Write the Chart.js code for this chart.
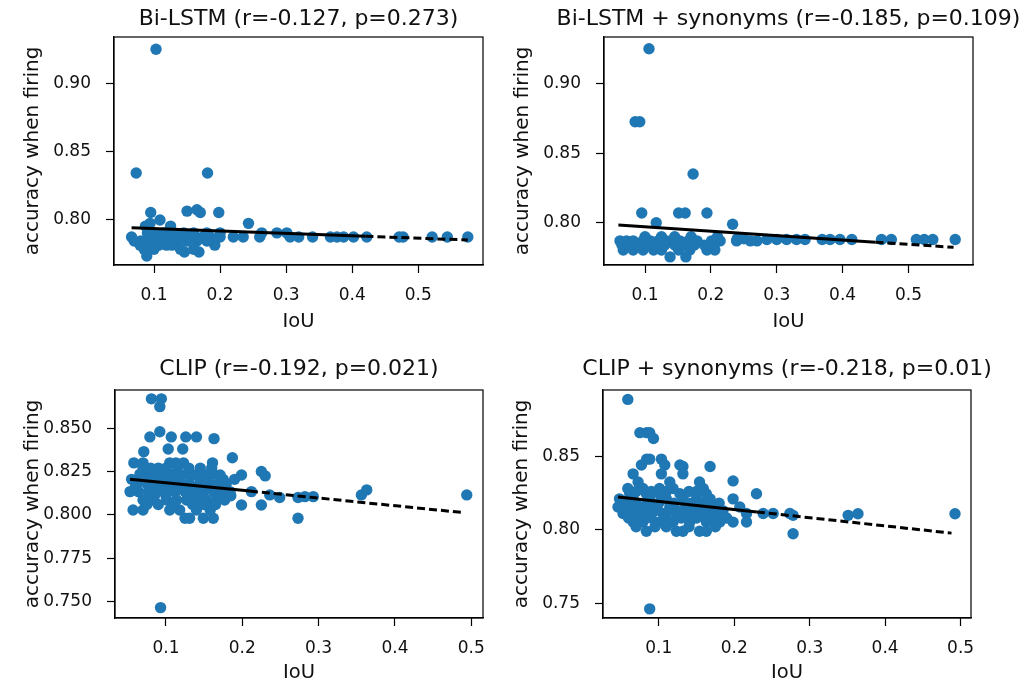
<!DOCTYPE html>
<html>
<head>
<meta charset="utf-8">
<script src="https://cdn.jsdelivr.net/npm/chart.js@4"></script>
<style>
  body { margin: 0; width: 1024px; height: 686px; overflow: hidden; background: #fff; position: relative; }
  .panel { position: absolute; }
</style>
</head>
<body>
<div class="panel" style="left:0px;top:0px;width:500px;height:343px"><canvas id="lstm"></canvas></div>
<div class="panel" style="left:490px;top:0px;width:534px;height:343px"><canvas id="lstmSyn"></canvas></div>
<div class="panel" style="left:0px;top:343px;width:500px;height:343px"><canvas id="clip"></canvas></div>
<div class="panel" style="left:489px;top:343px;width:535px;height:343px"><canvas id="clipSyn"></canvas></div>
<script>
// Bi-LSTM
const lstmX = [0.103, 0.073, 0.181, 0.095, 0.150, 0.165, 0.170, 0.198, 0.109, 0.087, 0.125, 0.094, 0.243,
  0.066, 0.079, 0.087, 0.089, 0.104, 0.107, 0.119, 0.127, 0.146, 0.168, 0.192,
  0.109, 0.127, 0.142, 0.157, 0.174, 0.185, 0.200, 0.220, 0.235, 0.260, 0.263, 0.286, 0.301,
  0.306, 0.319, 0.340, 0.367, 0.377, 0.387, 0.402, 0.422, 0.471, 0.477, 0.521, 0.544, 0.575,
  0.070, 0.080, 0.095, 0.115, 0.135, 0.150, 0.165, 0.180,
  0.090, 0.100, 0.115, 0.130, 0.145, 0.160, 0.180, 0.200,
  0.085, 0.100, 0.140, 0.160];
const lstmY = [0.925, 0.834, 0.834, 0.805, 0.806, 0.807, 0.805, 0.805, 0.7995, 0.795, 0.795, 0.797, 0.797,
  0.787, 0.781, 0.781, 0.773, 0.781, 0.781, 0.781, 0.781, 0.776, 0.776, 0.781,
  0.787, 0.787, 0.787, 0.787, 0.787, 0.787, 0.787, 0.787, 0.787, 0.787, 0.790, 0.790, 0.790,
  0.787, 0.787, 0.787, 0.787, 0.787, 0.787, 0.787, 0.787, 0.787, 0.787, 0.787, 0.787, 0.787,
  0.784, 0.784, 0.784, 0.784, 0.784, 0.784, 0.784, 0.784,
  0.790, 0.790, 0.790, 0.790, 0.790, 0.790, 0.790, 0.790,
  0.778, 0.778, 0.778, 0.778];
const lstmFitX = [0.066, 0.42, 0.575];
const lstmFitY = [0.7938, 0.7875, 0.7848];

// Bi-LSTM + synonyms
const lstmSynX = [0.106, 0.085, 0.092, 0.173, 0.095, 0.151, 0.161, 0.194, 0.117, 0.233,
  0.062, 0.072, 0.082, 0.097, 0.108, 0.120, 0.133, 0.153, 0.166, 0.179, 0.201, 0.214, 0.239, 0.260, 0.270,
  0.067, 0.082, 0.097, 0.113, 0.125, 0.151, 0.168, 0.194, 0.206, 0.138, 0.162,
  0.285, 0.300, 0.315, 0.330, 0.343, 0.369, 0.381, 0.396, 0.414, 0.459, 0.474, 0.512, 0.524, 0.537, 0.571,
  0.065, 0.075, 0.090, 0.105, 0.115, 0.130, 0.145, 0.160, 0.175, 0.190, 0.205,
  0.100, 0.125, 0.145, 0.170, 0.210, 0.240, 0.250];
const lstmSynY = [0.925, 0.8725, 0.8725, 0.835, 0.807, 0.807, 0.807, 0.807, 0.800, 0.799,
  0.787, 0.787, 0.787, 0.787, 0.787, 0.787, 0.787, 0.787, 0.787, 0.787, 0.787, 0.787, 0.787, 0.787, 0.787,
  0.7805, 0.7805, 0.7805, 0.7805, 0.7805, 0.7805, 0.7805, 0.7805, 0.7805, 0.7755, 0.7755,
  0.788, 0.788, 0.788, 0.788, 0.788, 0.788, 0.788, 0.788, 0.788, 0.788, 0.788, 0.788, 0.788, 0.788, 0.788,
  0.784, 0.784, 0.784, 0.784, 0.784, 0.784, 0.784, 0.784, 0.784, 0.784, 0.784,
  0.790, 0.790, 0.790, 0.790, 0.790, 0.7885, 0.7885];
const lstmSynFitX = [0.0595, 0.45, 0.5685];
const lstmSynFitY = [0.7984, 0.7861, 0.7824];

// CLIP
const clipX = [0.081, 0.094, 0.092,
  0.079, 0.092, 0.107, 0.126, 0.140, 0.163, 0.103, 0.122, 0.071, 0.187,
  0.058, 0.070, 0.105, 0.113, 0.123, 0.161,
  0.066, 0.073, 0.079, 0.086, 0.092, 0.101, 0.110, 0.118, 0.127, 0.136, 0.145, 0.153, 0.162, 0.171,
  0.199, 0.225, 0.230,
  0.062, 0.075, 0.083, 0.097, 0.107, 0.121, 0.131, 0.145, 0.158, 0.168, 0.179,
  0.053, 0.064, 0.077, 0.088, 0.099, 0.112, 0.125, 0.136, 0.149, 0.162, 0.175, 0.184,
  0.212, 0.236, 0.249,
  0.070, 0.083, 0.101, 0.114, 0.127, 0.140, 0.153, 0.166, 0.177,
  0.199, 0.225,
  0.057, 0.070, 0.105, 0.118, 0.140, 0.158,
  0.125, 0.131, 0.149, 0.162,
  0.273, 0.273, 0.282, 0.293, 0.356, 0.363, 0.494, 0.093,
  0.070, 0.080, 0.090, 0.100, 0.115, 0.130, 0.145, 0.160,
  0.055, 0.085, 0.115, 0.145, 0.175, 0.190,
  0.060, 0.090, 0.105, 0.120, 0.135, 0.150, 0.165,
  0.085, 0.100, 0.130, 0.145, 0.170, 0.185,
  0.075, 0.090, 0.110, 0.135, 0.150, 0.165];
const clipY = [0.867, 0.867, 0.8625,
  0.845, 0.848, 0.845, 0.845, 0.845, 0.844, 0.838, 0.838, 0.8365, 0.833,
  0.830, 0.830, 0.830, 0.830, 0.830, 0.830,
  0.8235, 0.823, 0.8235, 0.823, 0.8235, 0.823, 0.8235, 0.823, 0.8235, 0.823, 0.8235, 0.823, 0.8235, 0.823,
  0.823, 0.825, 0.8225,
  0.818, 0.818, 0.818, 0.818, 0.818, 0.818, 0.818, 0.818, 0.818, 0.818, 0.818,
  0.8134, 0.8134, 0.8134, 0.8134, 0.8134, 0.8134, 0.8134, 0.8134, 0.8134, 0.8134, 0.8134, 0.8134,
  0.8134, 0.8115, 0.810,
  0.8086, 0.8086, 0.8086, 0.8086, 0.8086, 0.8086, 0.8086, 0.8086, 0.8086,
  0.8057, 0.8057,
  0.8028, 0.8028, 0.8028, 0.8028, 0.8028, 0.8028,
  0.798, 0.798, 0.798, 0.798,
  0.810, 0.798, 0.8105, 0.8105, 0.8115, 0.8144, 0.8115, 0.7464,
  0.827, 0.827, 0.827, 0.827, 0.827, 0.827, 0.827, 0.827,
  0.8205, 0.8205, 0.8205, 0.8205, 0.8205, 0.8205,
  0.816, 0.816, 0.816, 0.816, 0.816, 0.816, 0.816,
  0.811, 0.811, 0.811, 0.811, 0.811, 0.811,
  0.806, 0.806, 0.806, 0.806, 0.806, 0.806];
const clipFitX = [0.0529, 0.21, 0.489];
const clipFitY = [0.8206, 0.8137, 0.8013];

// CLIP + synonyms
const clipSynX = [0.059, 0.075, 0.084, 0.088, 0.093,
  0.077, 0.084, 0.088, 0.1035, 0.108, 0.128, 0.132, 0.168,
  0.066, 0.1035, 0.132,
  0.0726, 0.1146, 0.154, 0.1985,
  0.059, 0.079, 0.101, 0.119, 0.159,
  0.0615, 0.0836, 0.101, 0.128, 0.163, 0.2295,
  0.048, 0.066, 0.088, 0.110, 0.132, 0.150, 0.168, 0.1985,
  0.046, 0.0615, 0.075, 0.097, 0.1146, 0.137, 0.154, 0.172, 0.2074,
  0.0527, 0.070, 0.088, 0.1057, 0.1234, 0.141, 0.159, 0.1765, 0.2163, 0.2384, 0.2516, 0.2737,
  0.066, 0.079, 0.101, 0.119, 0.141, 0.163, 0.181, 0.1985, 0.2163,
  0.0836, 0.1234, 0.132, 0.154, 0.163,
  0.278, 0.278, 0.351, 0.364, 0.4926, 0.088,
  0.055, 0.070, 0.085, 0.100, 0.120, 0.140, 0.160, 0.180,
  0.060, 0.080, 0.095, 0.115, 0.130, 0.150, 0.165, 0.185,
  0.060, 0.075, 0.090, 0.110, 0.130, 0.150, 0.170, 0.190,
  0.070, 0.095, 0.110, 0.140, 0.175,
  0.070, 0.090, 0.110, 0.140, 0.150];
const clipSynY = [0.8886, 0.866, 0.866, 0.866, 0.862,
  0.844, 0.848, 0.848, 0.848, 0.844, 0.844, 0.843, 0.843,
  0.838, 0.838, 0.838,
  0.8325, 0.8325, 0.8325, 0.8332,
  0.828, 0.828, 0.828, 0.828, 0.828,
  0.8245, 0.8245, 0.8245, 0.8245, 0.8245, 0.8245,
  0.821, 0.821, 0.821, 0.821, 0.821, 0.821, 0.821, 0.821,
  0.8155, 0.8155, 0.8155, 0.8155, 0.8155, 0.8155, 0.8155, 0.8155, 0.8155,
  0.811, 0.811, 0.811, 0.811, 0.811, 0.811, 0.811, 0.811, 0.811, 0.811, 0.811, 0.811,
  0.8052, 0.8052, 0.8052, 0.8052, 0.8052, 0.8052, 0.8052, 0.8052, 0.8052,
  0.799, 0.799, 0.799, 0.799, 0.799,
  0.7973, 0.8098, 0.8098, 0.8109, 0.8109, 0.7462,
  0.818, 0.818, 0.818, 0.818, 0.818, 0.818, 0.818, 0.818,
  0.813, 0.813, 0.813, 0.813, 0.813, 0.813, 0.813, 0.813,
  0.808, 0.808, 0.808, 0.808, 0.808, 0.808, 0.808, 0.808,
  0.802, 0.802, 0.802, 0.802, 0.802,
  0.826, 0.826, 0.826, 0.826, 0.826];
const clipSynFitX = [0.046, 0.23, 0.488];
const clipSynFitY = [0.8223, 0.8121, 0.7977];

const iouTicks = [0.1, 0.2, 0.3, 0.4, 0.5];
const lstmYTicks = [0.80, 0.85, 0.90];
const clipYTicks = [0.750, 0.775, 0.800, 0.825, 0.850];
const clipSynYTicks = [0.75, 0.80, 0.85];

const textColor = '#111';
const family = "'DejaVu Sans', sans-serif";

// title over the plot area + full frame around it
const panelFrame = {
    id: 'panelFrame',
    afterDatasetsDraw(chart, args, opts) {
        const a = chart.chartArea;
        const ctx = chart.ctx;
        ctx.save();
        ctx.strokeStyle = '#000';
        ctx.lineWidth = 1.2;
        ctx.strokeRect(a.left, a.top, a.right - a.left, a.bottom - a.top);
        ctx.font = '22px ' + family;
        ctx.fillStyle = textColor;
        ctx.textAlign = 'center';
        ctx.textBaseline = 'middle';
        ctx.fillText(opts.text, (a.left + a.right) / 2, a.top - opts.gap);
        ctx.restore();
    }
};

function points(xs, ys) {
    return xs.map((x, i) => ({ x: x, y: ys[i] }));
}

function makePlot(id, p) {
    new Chart(document.getElementById(id), {
        type: 'scatter',
        data: {
            datasets: [
                {
                    type: 'line',
                    data: points(p.fitX, p.fitY),
                    borderColor: '#000',
                    borderWidth: 3,
                    pointRadius: 0,
                    fill: false,
                    segment: {
                        borderDash: ctx => ctx.p0DataIndex === 0 ? [] : [8, 4]
                    }
                },
                {
                    data: points(p.xs, p.ys),
                    backgroundColor: '#1f77b4',
                    borderWidth: 0,
                    pointRadius: 5.7
                }
            ]
        },
        options: {
            animation: false,
            responsive: true,
            maintainAspectRatio: false,
            events: [],
            layout: { padding: { top: p.top, right: p.right, left: 0, bottom: 0 } },
            scales: {
                x: {
                    type: 'linear',
                    min: p.xMin,
                    max: p.xMax,
                    afterBuildTicks: s => { s.ticks = iouTicks.map(v => ({ value: v })); },
                    afterFit: s => { s.height = p.xHeight; },
                    ticks: {
                        color: textColor,
                        font: { family: family, size: 17 },
                        padding: 12,
                        maxRotation: 0,
                        callback: v => v.toFixed(1)
                    },
                    grid: { drawOnChartArea: false, drawTicks: true, tickLength: 8, color: '#000', tickWidth: 1.2 },
                    border: { display: true, color: '#000', width: 1.2 },
                    title: {
                        display: true,
                        text: 'IoU',
                        color: textColor,
                        font: { family: family, size: 19.5 },
                        padding: { top: 0, bottom: p.xTitlePad }
                    }
                },
                y: {
                    type: 'linear',
                    min: p.yMin,
                    max: p.yMax,
                    afterBuildTicks: s => { s.ticks = p.yTicks.map(v => ({ value: v })); },
                    afterFit: s => { s.width = p.yWidth; },
                    ticks: {
                        color: textColor,
                        font: { family: family, size: 17 },
                        padding: 15,
                        callback: v => v.toFixed(p.yDigits)
                    },
                    grid: { drawOnChartArea: false, drawTicks: true, tickLength: 8, color: '#000', tickWidth: 1.2 },
                    border: { display: true, color: '#000', width: 1.2 },
                    title: {
                        display: true,
                        text: 'accuracy when firing',
                        color: textColor,
                        font: { family: family, size: 20 },
                        padding: { top: 21, bottom: 0 }
                    }
                }
            },
            plugins: {
                legend: { display: false },
                tooltip: { enabled: false },
                panelFrame: { text: p.title, gap: p.titleGap }
            }
        },
        plugins: [panelFrame]
    });
}

makePlot('lstm', {
    xs: lstmX, ys: lstmY, fitX: lstmFitX, fitY: lstmFitY, yTicks: lstmYTicks, yDigits: 2,
    xMin: 0.0394, xMax: 0.598, yMin: 0.7664, yMax: 0.934,
    title: 'Bi-LSTM (r=-0.127, p=0.273)', titleGap: 18,
    top: 37, right: 17, yWidth: 114, xHeight: 78, xTitlePad: 9.3
});
makePlot('lstmSyn', {
    xs: lstmSynX, ys: lstmSynY, fitX: lstmSynFitX, fitY: lstmSynFitY, yTicks: lstmYTicks, yDigits: 2,
    xMin: 0.0377, xMax: 0.598, yMin: 0.7697, yMax: 0.9334,
    title: 'Bi-LSTM + synonyms (r=-0.185, p=0.109)', titleGap: 18,
    top: 37, right: 51, yWidth: 114, xHeight: 78, xTitlePad: 9.3
});
makePlot('clip', {
    xs: clipX, ys: clipY, fitX: clipFitX, fitY: clipFitY, yTicks: clipYTicks, yDigits: 3,
    xMin: 0.0333, xMax: 0.5153, yMin: 0.7404, yMax: 0.8721,
    title: 'CLIP (r=-0.192, p=0.021)', titleGap: 21,
    top: 47, right: 17, yWidth: 115, xHeight: 68, xTitlePad: 1.5
});
makePlot('clipSyn', {
    xs: clipSynX, ys: clipSynY, fitX: clipSynFitX, fitY: clipSynFitY, yTicks: clipSynYTicks, yDigits: 2,
    xMin: 0.0261, xMax: 0.5138, yMin: 0.740, yMax: 0.895,
    title: 'CLIP + synonyms (r=-0.218, p=0.01)', titleGap: 21,
    top: 47, right: 53, yWidth: 114, xHeight: 68, xTitlePad: 1.5
});
</script>
</body>
</html>
